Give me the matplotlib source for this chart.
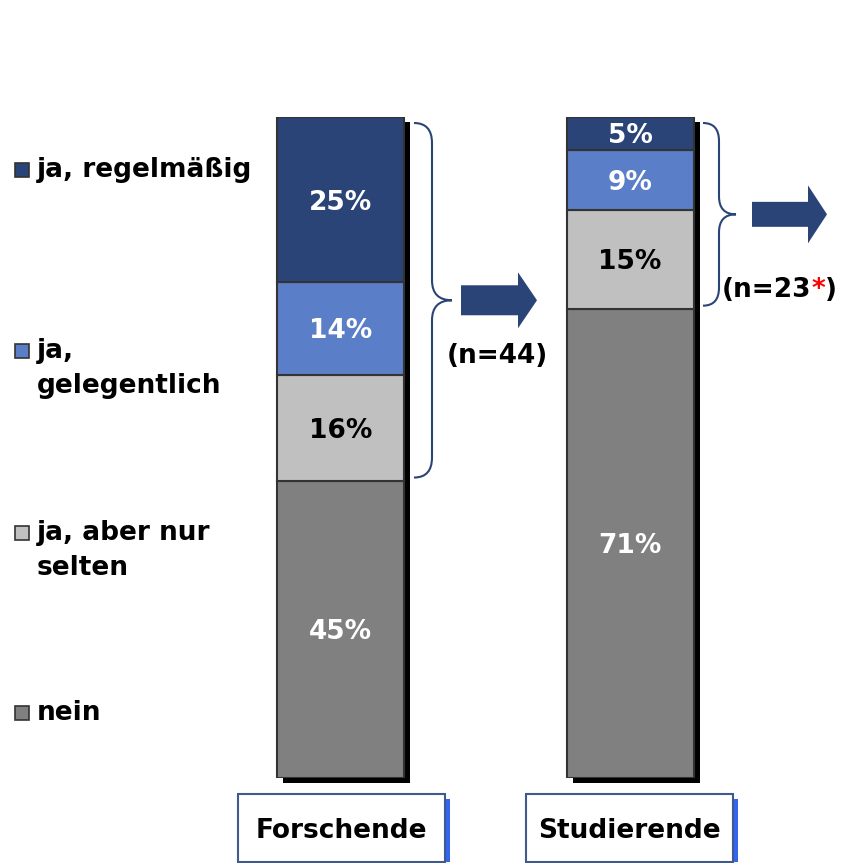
import matplotlib
matplotlib.use("Agg")
import matplotlib.pyplot as plt
import matplotlib.patches as mpatches
import matplotlib.transforms as mtransforms
from matplotlib.path import Path
import numpy as np

# data
categories = ["Forschende", "Studierende"]
series = ["ja, regelmäßig", "ja,\ngelegentlich", "ja, aber nur\nselten", "nein"]
forschende = [25, 14, 16, 45]
studierende = [5, 9, 15, 71]
n_values = ["44", "23"]

colors = ["#2B4477", "#5B7EC8", "#C0C0C0", "#808080"]
label_colors = ["white", "white", "black", "white"]

W, H = 858, 863
top_px, bot_px = 117, 778
scale = (bot_px - top_px) / 100.0


def px(pct_from_top):
    return top_px + pct_from_top * scale


fig = plt.figure(figsize=(W / 100, H / 100), dpi=100)

# bar axes: x in pixels, y in percent
ax = fig.add_axes([0, (H - bot_px) / H, 1, (bot_px - top_px) / H])
ax.set_xlim(0, W)
ax.set_ylim(0, 100)
ax.axis("off")

centers = np.array([340.5, 630])
width = 127
values = np.array([forschende, studierende])

# shadow
ax.bar(centers + 6, 100, bottom=-0.8, width=width, color="black", zorder=1, clip_on=False)

# stacked from bottom: nein, selten, gelegentlich, regelmäßig
bottom = np.zeros(len(categories))
for k in range(len(series) - 1, -1, -1):
    vals = values[:, k]
    ax.bar(centers, vals, bottom=bottom, width=width, color=colors[k],
           edgecolor="#333333", linewidth=1.5, zorder=2)
    for c, v, b in zip(centers, vals, bottom):
        ax.text(c, b + v / 2 - 0.45, f"{v}%", ha="center", va="center", fontsize=19,
                fontweight="bold", color=label_colors[k], zorder=3)
    bottom += vals

# overlay axes in pixel coords
ov = fig.add_axes([0, 0, 1, 1])
ov.set_xlim(0, W)
ov.set_ylim(H, 0)
ov.axis("off")

# legend
leg_y = [172, 353, 535, 715]
for lab, col, y in zip(series, colors, leg_y):
    ov.add_patch(mpatches.Rectangle((15, y - 9), 14, 14, facecolor=col,
                                    edgecolor="#333333", linewidth=1.2))
    ov.text(37, y - 15, lab, ha="left", va="top", fontsize=19, fontweight="bold",
            linespacing=1.47)


def brace(x0, x1, x2, yt, yb, r=20):
    ym = (yt + yb) / 2
    verts = [(x0, yt), (x1, yt), (x1, yt + r),
             (x1, ym - r),
             (x1, ym), (x2, ym),
             (x1, ym), (x1, ym + r),
             (x1, yb - r),
             (x1, yb), (x0, yb)]
    codes = [Path.MOVETO, Path.CURVE3, Path.CURVE3,
             Path.LINETO,
             Path.CURVE3, Path.CURVE3,
             Path.CURVE3, Path.CURVE3,
             Path.LINETO,
             Path.CURVE3, Path.CURVE3]
    ov.add_patch(mpatches.PathPatch(Path(verts, codes), facecolor="none",
                                    edgecolor="#2B4477", linewidth=1.5))
    return ym


# braces over the "ja" answers
ja_f = sum(forschende[:3])
ja_s = sum(studierende[:3])
ym_f = brace(414, 432, 452, px(0) + 6, px(ja_f) - 3)
ym_s = brace(703, 719, 736, px(0) + 6, px(ja_s) - 3, r=18)

ov.add_patch(mpatches.FancyArrow(461, ym_f, 76, 0, width=30, head_width=56,
                                 head_length=19, length_includes_head=True,
                                 color="#2B4477", linewidth=0))
ov.add_patch(mpatches.FancyArrow(752, ym_s, 75, 0, width=25, head_width=58,
                                 head_length=19, length_includes_head=True,
                                 color="#2B4477", linewidth=0))

ov.text(497, 356, f"(n={n_values[0]})", ha="center", va="center", fontsize=19,
        fontweight="bold")
t1 = ov.text(722, 290, f"(n={n_values[1]}", ha="left", va="center", fontsize=19,
             fontweight="bold")
fig.canvas.draw()
r = fig.canvas.get_renderer()
mixed = mtransforms.blended_transform_factory(mtransforms.IdentityTransform(), ov.transData)
bb = t1.get_window_extent(r)
t2 = ov.text(bb.x1, 290, "*", ha="left", va="center", fontsize=19,
             fontweight="bold", color="red", transform=mixed)
bb2 = t2.get_window_extent(r)
ov.text(bb2.x1, 290, ")", ha="left", va="center", fontsize=19, fontweight="bold",
        transform=mixed)

# category boxes
box_x = [238, 526]
for bx, cat in zip(box_x, categories):
    ov.add_patch(mpatches.Rectangle((bx + 207, 799), 5, 63, facecolor="#3366EE",
                                    edgecolor="none"))
    ov.add_patch(mpatches.Rectangle((bx, 794), 207, 68, facecolor="white",
                                    edgecolor="#3F5A8F", linewidth=1.5))
    ov.text(bx + 103, 831, cat, ha="center", va="center", fontsize=19,
            fontweight="bold")

fig.savefig("out.png", dpi=100)
